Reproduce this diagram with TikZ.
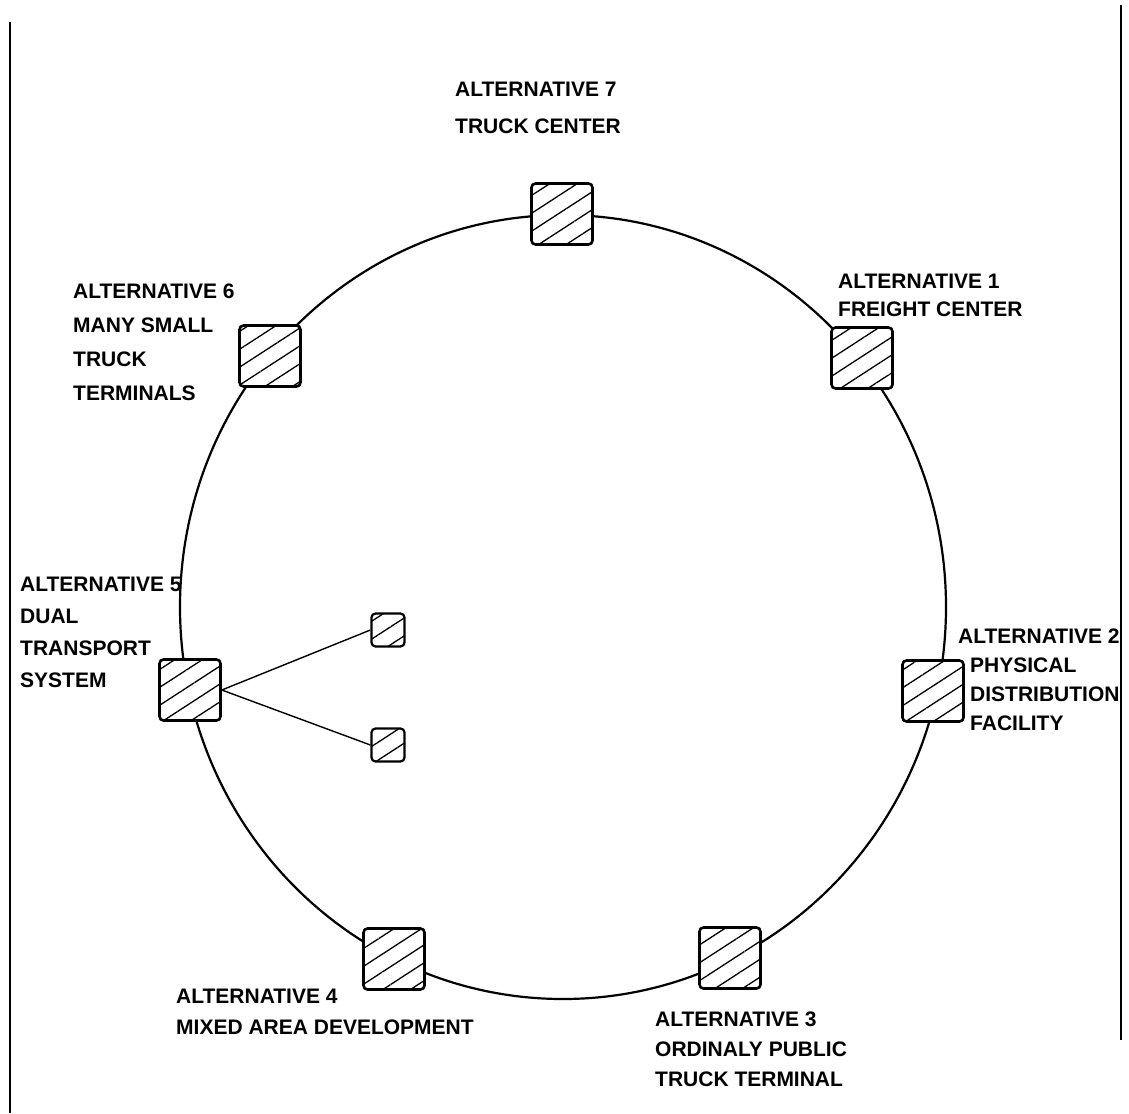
\documentclass[tikz,border=0pt]{standalone}
\usepackage{fontspec}
\setmainfont{Liberation Sans}
\usetikzlibrary{patterns.meta}

\begin{document}
\begin{tikzpicture}[x=1pt,y=-1pt,
    alt/.style={draw,line width=2.6pt,rounded corners=4pt,minimum width=61pt,minimum height=61pt,inner sep=0pt,
        preaction={fill=white},pattern={Lines[angle=33,distance=15pt,line width=1.3pt]}},
    smallalt/.style={alt,line width=2.2pt,minimum width=33pt,minimum height=33pt},
    lbl/.style={anchor=north west,align=left,inner sep=0pt,font=\fontsize{21}{#1}\selectfont\bfseries}]
    \useasboundingbox (0,0) rectangle (1129,1113);
    \draw[line width=2.5pt] (10,22) -- (10,1113);
    \draw[line width=1.5pt] (1121,5) -- (1121,1040);
    \draw[line width=2.2pt] (563,607) ellipse [x radius=383, y radius=392];
    % the seven alternatives round the ring
    \node[alt] (a1) at (862,358) {};
    \node[alt] (a2) at (933,691) {};
    \node[alt] (a3) at (730,958) {};
    \node[alt] (a4) at (394,959) {};
    \node[alt] (a5) at (190,690) {};
    \node[alt] (a6) at (270,356) {};
    \node[alt] (a7) at (562,214) {};
    \node[smallalt] (s1) at (388,630) {};
    \node[smallalt] (s2) at (388,745) {};
    \draw[line width=1.4pt] (a5.east) -- (s1.west);
    \draw[line width=1.4pt] (a5.east) -- (s2.west);
    % labels
    \node[lbl=37] (l7) at (455,82) {ALTERNATIVE 7\\TRUCK CENTER};
    \node[lbl=28] (l1) at (838,274) {ALTERNATIVE 1\\FREIGHT CENTER};
    \node[lbl=34] (l6) at (73,284) {ALTERNATIVE 6\\MANY SMALL\\TRUCK\\TERMINALS};
    \node[lbl=32] (l5) at (20,577) {ALTERNATIVE 5\\DUAL\\TRANSPORT\\SYSTEM};
    \node[lbl=29] (l2) at (958,629) {ALTERNATIVE 2\\\hspace*{12pt}PHYSICAL\\\hspace*{12pt}DISTRIBUTION\\\hspace*{12pt}FACILITY};
    \node[lbl=31] (l4) at (176,989) {ALTERNATIVE 4\\MIXED AREA DEVELOPMENT};
    \node[lbl=30] (l3) at (655,1012) {ALTERNATIVE 3\\ORDINALY PUBLIC\\TRUCK TERMINAL};
\end{tikzpicture}
\end{document}
